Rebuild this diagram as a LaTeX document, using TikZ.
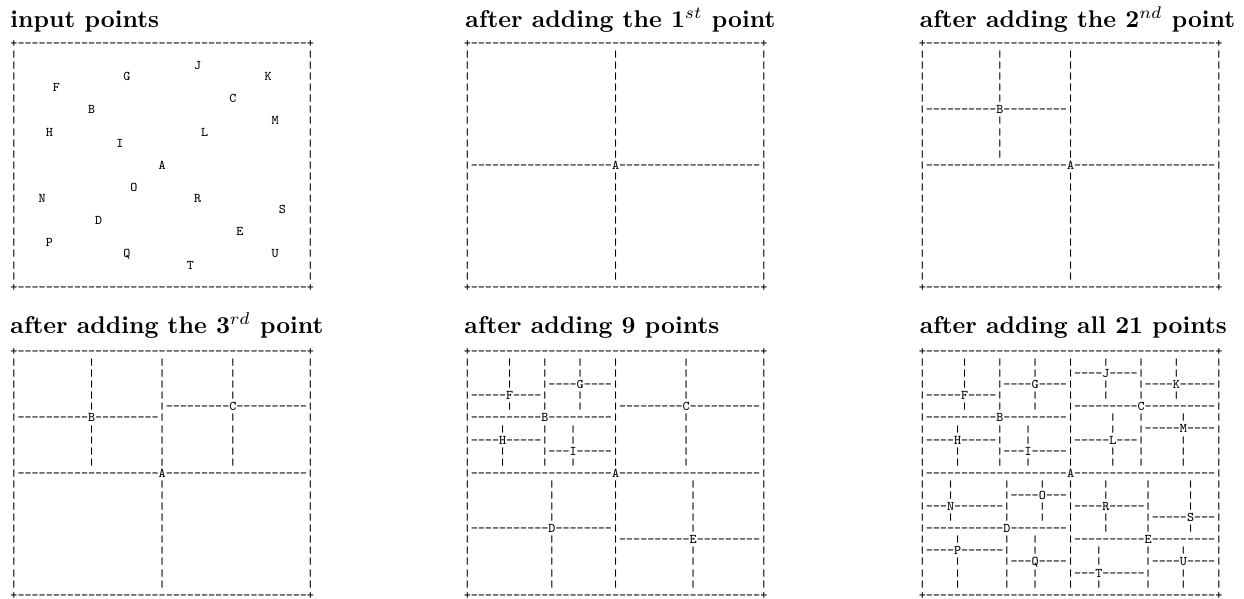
\documentclass[tikz,border=0pt]{standalone}
\usepackage{graphicx}
\tikzset{
  ch/.style={inner sep=0pt, outer sep=0pt, text height=3.4pt, text depth=1pt,
    font=\fontsize{5.5}{6}\selectfont\ttfamily},
  ttl/.style={anchor=base west, inner sep=0pt, font=\normalsize\bfseries},
  qgrid/.style={x=2.9158pt, y=-4.576pt},
}
% a vertical bar character, a little shorter so that rows show gaps
\newcommand\vb{\raisebox{0.4pt}{\scalebox{1}[0.72]{|}}}
% frame of one panel: 43 columns x 23 rows of characters
\newcommand\qframe{%
  \foreach \i in {1,...,41}{\node[ch] at (\i,0) {-}; \node[ch] at (\i,22) {-};}
  \foreach \j in {1,...,21}{\node[ch] at (0,\j) {\vb}; \node[ch] at (42,\j) {\vb};}
  \foreach \p in {(0,0),(42,0),(0,22),(42,22)}{\node[ch] at \p {+};}
}
% point #7 at column #1, row #2 splitting region cols #3..#4, rows #5..#6; #8 = panel prefix
\newcommand\qpt[8]{%
  \foreach \i in {#3,...,#4}{\ifnum\i=#1\relax\else\node[ch] at (\i,#2) {-};\fi}
  \foreach \j in {#5,...,#6}{\ifnum\j=#2\relax\else\node[ch] at (#1,\j) {\vb};\fi}
  \node[ch] (#8#7) at (#1,#2) {#7};
}
\newcommand\qAtoC[1]{%
  \qpt{21}{11}{1}{41}{1}{21}{A}{#1}
  \qpt{11}{6}{1}{20}{1}{10}{B}{#1}
  \qpt{31}{5}{22}{41}{1}{10}{C}{#1}
}
\newcommand\qDtoI[1]{%
  \qpt{12}{16}{1}{20}{12}{21}{D}{#1}
  \qpt{32}{17}{22}{41}{12}{21}{E}{#1}
  \qpt{6}{4}{1}{10}{1}{5}{F}{#1}
  \qpt{16}{3}{12}{20}{1}{5}{G}{#1}
  \qpt{5}{8}{1}{10}{7}{10}{H}{#1}
  \qpt{15}{9}{12}{20}{7}{10}{I}{#1}
}
\begin{document}
\begin{tikzpicture}[x=0.413pt, y=-0.413pt]
\useasboundingbox (0,0) rectangle (1244,599);
% titles
\node[ttl] (t1) at (10,27) {input points};
\node[ttl] (t2) at (465,27) {after adding the 1$^{st}$ point};
\node[ttl] (t3) at (919.3,27) {after adding the 2$^{nd}$ point};
\node[ttl] (t4) at (10,333.5) {after adding the 3$^{rd}$ point};
\node[ttl] (t5) at (464,333.5) {after adding 9 points};
\node[ttl] (t6) at (919.3,333.5) {after adding all 21 points};
% panel 1: input points
\begin{scope}[shift={(14,44.5)}, qgrid]
  \qframe
  \node[ch] (p1A) at (21,11) {A};
  \node[ch] (p1B) at (11,6) {B};
  \node[ch] (p1C) at (31,5) {C};
  \node[ch] (p1D) at (12,16) {D};
  \node[ch] (p1E) at (32,17) {E};
  \node[ch] (p1F) at (6,4) {F};
  \node[ch] (p1G) at (16,3) {G};
  \node[ch] (p1H) at (5,8) {H};
  \node[ch] (p1I) at (15,9) {I};
  \node[ch] (p1J) at (26,2) {J};
  \node[ch] (p1K) at (36,3) {K};
  \node[ch] (p1L) at (27,8) {L};
  \node[ch] (p1M) at (37,7) {M};
  \node[ch] (p1N) at (4,14) {N};
  \node[ch] (p1O) at (17,13) {O};
  \node[ch] (p1P) at (5,18) {P};
  \node[ch] (p1Q) at (16,19) {Q};
  \node[ch] (p1R) at (26,14) {R};
  \node[ch] (p1S) at (38,15) {S};
  \node[ch] (p1T) at (25,20) {T};
  \node[ch] (p1U) at (37,19) {U};
\end{scope}
% panel 2
\begin{scope}[shift={(467.3,44.5)}, qgrid]
  \qframe
  \qpt{21}{11}{1}{41}{1}{21}{A}{p2}
\end{scope}
% panel 3
\begin{scope}[shift={(922.3,44.5)}, qgrid]
  \qframe
  \qpt{21}{11}{1}{41}{1}{21}{A}{p3}
  \qpt{11}{6}{1}{20}{1}{10}{B}{p3}
\end{scope}
% panel 4
\begin{scope}[shift={(14,352.5)}, qgrid]
  \qframe
  \qAtoC{p4}
\end{scope}
% panel 5
\begin{scope}[shift={(467.3,352.5)}, qgrid]
  \qframe
  \qAtoC{p5}
  \qDtoI{p5}
\end{scope}
% panel 6
\begin{scope}[shift={(922.3,352.5)}, qgrid]
  \qframe
  \qAtoC{p6}
  \qDtoI{p6}
  \qpt{26}{2}{22}{30}{1}{4}{J}{p6}
  \qpt{36}{3}{32}{41}{1}{4}{K}{p6}
  \qpt{27}{8}{22}{30}{6}{10}{L}{p6}
  \qpt{37}{7}{32}{41}{6}{10}{M}{p6}
  \qpt{4}{14}{1}{11}{12}{15}{N}{p6}
  \qpt{17}{13}{13}{20}{12}{15}{O}{p6}
  \qpt{5}{18}{1}{11}{17}{21}{P}{p6}
  \qpt{16}{19}{13}{20}{17}{21}{Q}{p6}
  \qpt{26}{14}{22}{31}{12}{16}{R}{p6}
  \qpt{38}{15}{33}{41}{12}{16}{S}{p6}
  \qpt{25}{20}{22}{31}{18}{21}{T}{p6}
  \qpt{37}{19}{33}{41}{18}{21}{U}{p6}
\end{scope}
\end{tikzpicture}
\end{document}
